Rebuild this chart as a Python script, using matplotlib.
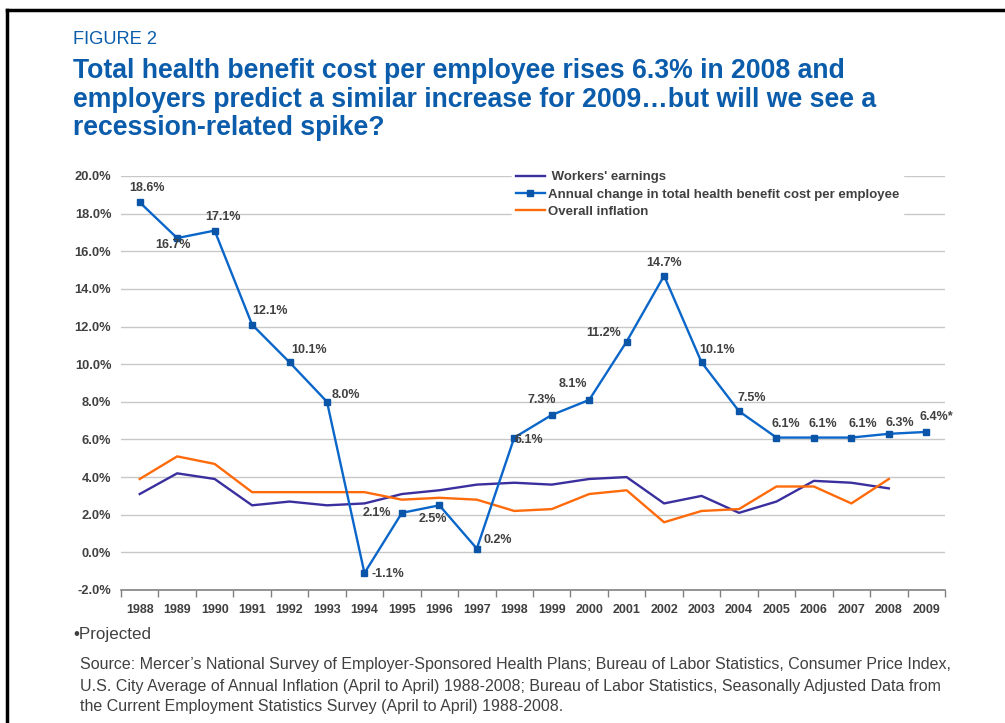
import matplotlib.pyplot as plt
import numpy as np
from matplotlib.lines import Line2D

years = [str(y) for y in range(1988, 2010)]

# annual change in total health benefit cost per employee (2009 projected)
health = [18.6, 16.7, 17.1, 12.1, 10.1, 8.0, -1.1, 2.1, 2.5, 0.2, 6.1,
          7.3, 8.1, 11.2, 14.7, 10.1, 7.5, 6.1, 6.1, 6.1, 6.3, 6.4]
health_labels = ['18.6%', '16.7%', '17.1%', '12.1%', '10.1%', '8.0%', '-1.1%',
                 '2.1%', '2.5%', '0.2%', '6.1%', '7.3%', '8.1%', '11.2%',
                 '14.7%', '10.1%', '7.5%', '6.1%', '6.1%', '6.1%', '6.3%', '6.4%*']

# 1988-2008 only
earnings = [3.1, 4.2, 3.9, 2.5, 2.7, 2.5, 2.6, 3.1, 3.3, 3.6, 3.7,
            3.6, 3.9, 4.0, 2.6, 3.0, 2.1, 2.7, 3.8, 3.7, 3.4]
inflation = [3.9, 5.1, 4.7, 3.2, 3.2, 3.2, 3.2, 2.8, 2.9, 2.8, 2.2,
             2.3, 3.1, 3.3, 1.6, 2.2, 2.3, 3.5, 3.5, 2.6, 3.9]

yticks = np.arange(-2, 21, 2)

title_lines = ['Total health benefit cost per employee rises 6.3% in 2008 and',
               'employers predict a similar increase for 2009\u2026but will we see a',
               'recession-related spike?']
source_lines = ["Source: Mercer\u2019s National Survey of Employer-Sponsored Health Plans; Bureau of Labor "
                "Statistics, Consumer Price Index,",
                "U.S. City Average of Annual Inflation (April to April) 1988-2008; Bureau of Labor "
                "Statistics, Seasonally Adjusted Data from",
                "the Current Employment Statistics Survey (April to April) 1988-2008."]

# label offsets in points (dx, dy, ha)
offsets = [(5, 10, 'center'), (-3, -5, 'center'), (6, 10, 'center'), (0, 10, 'left'),
           (1, 8.5, 'left'), (3, 5, 'left'), (5, -1, 'left'), (-8, 0, 'right'),
           (-5, -10, 'center'), (5, 6, 'left'), (0, -2, 'left'), (-7, 11, 'center'),
           (-12, 11.5, 'center'), (-4, 6.5, 'right'), (0, 9.5, 'center'), (-2, 8.5, 'left'),
           (-1, 9.5, 'left'), (7, 10, 'center'), (6.5, 10, 'center'), (8.5, 10, 'center'),
           (8, 8, 'center'), (-5, 11, 'left')]

plt.rcParams['font.family'] = ['Liberation Sans', 'DejaVu Sans']

blue = '#0a66c9'
mark = '#0a55a8'
indigo = '#3a2f9e'
orange = '#ff6a0a'
gray = '#404040'
title_blue = '#0b5cab'

W, H = 1005, 723
fig = plt.figure(figsize=(W / 100, H / 100), dpi=100)
ax = fig.add_axes([121 / W, 1 - 590 / H, 824 / W, 414 / H])

x = np.arange(len(years))
ax.plot(x[:len(earnings)], earnings, color=indigo, lw=1.7, zorder=3)
ax.plot(x, health, color=blue, lw=1.7, marker='s', ms=5, mfc=mark, mec=mark, zorder=4)
ax.plot(x[:len(inflation)], inflation, color=orange, lw=1.7, zorder=3)

for xi, v, lab, (dx, dy, ha) in zip(x, health, health_labels, offsets):
    ax.annotate(lab, (xi, v), xytext=(dx, dy), textcoords='offset points',
                ha=ha, va='center', fontsize=9, fontweight='bold', color=gray, zorder=5)

ax.set_xlim(-0.5, len(years) - 0.5)
ax.set_ylim(-2, 20)
ax.set_yticks(yticks)
ax.set_yticklabels([f'{v:.1f}%' for v in yticks])
ax.set_xticks(x)
ax.set_xticklabels(years)
ax.set_xticks(np.arange(-0.5, len(years)), minor=True)
ax.tick_params(axis='x', which='major', length=0, pad=10, labelsize=9, labelcolor=gray)
ax.tick_params(axis='x', which='minor', length=5, color='#808080', width=1)
ax.tick_params(axis='y', length=0, pad=7, labelsize=9.3, labelcolor=gray)
for lab in ax.get_xticklabels() + ax.get_yticklabels():
    lab.set_fontweight('bold')

for v in yticks[1:]:
    ax.axhline(v, color='#c8c8c8', lw=1, zorder=1)
for s in ['top', 'right', 'left']:
    ax.spines[s].set_visible(False)
ax.spines['bottom'].set_color('#808080')
ax.spines['bottom'].set_linewidth(1.2)

handles = [Line2D([], [], color=indigo, lw=1.7),
           Line2D([], [], color=blue, lw=1.7, marker='s', ms=4, mfc=mark, mec=mark),
           Line2D([], [], color=orange, lw=1.7)]
leg = ax.legend(handles, [" Workers' earnings", 'Annual change in total health benefit cost per employee',
                          'Overall inflation'],
                loc='upper left', bbox_to_anchor=((505 - 121) / 824, 1.037), frameon=True,
                fancybox=False, edgecolor='white', framealpha=1, handlelength=2.25,
                handletextpad=0.2, labelspacing=0.38, borderpad=0.3,
                prop={'size': 9.5, 'weight': 'bold'})
for t in leg.get_texts():
    t.set_color(gray)
leg.set_zorder(6)

# frame around the figure
fig.add_artist(Line2D([7 / W, 7 / W], [0, 1 - 10 / H], color='black', lw=2.5))
fig.add_artist(Line2D([7 / W, 1], [1 - 10 / H, 1 - 10 / H], color='black', lw=2.5))


def text_block(lines, x0, ys, width_px, **kw):
    # put each line at its own y, then scale the font so the longest line spans width_px
    texts = [fig.text(x0 / W, 1 - y / H, s, va='center', **kw) for s, y in zip(lines, ys)]
    r = fig.canvas.get_renderer()
    widest = max(t.get_window_extent(r).width for t in texts)
    size = texts[0].get_fontsize() * width_px / widest
    for t in texts:
        t.set_fontsize(size)
    return texts


text_block(['FIGURE 2'], 73, [40], 84, fontsize=11, color=title_blue)
text_block(title_lines, 73, [71, 100, 128], 802, fontsize=16, fontweight='bold', color=title_blue)
text_block(['\u2022Projected'], 73, [634], 78, fontsize=10, color=gray)
text_block(source_lines, 80, [665, 686, 706], 875, fontsize=10, color=gray)

fig.savefig('out.png', dpi=100)
